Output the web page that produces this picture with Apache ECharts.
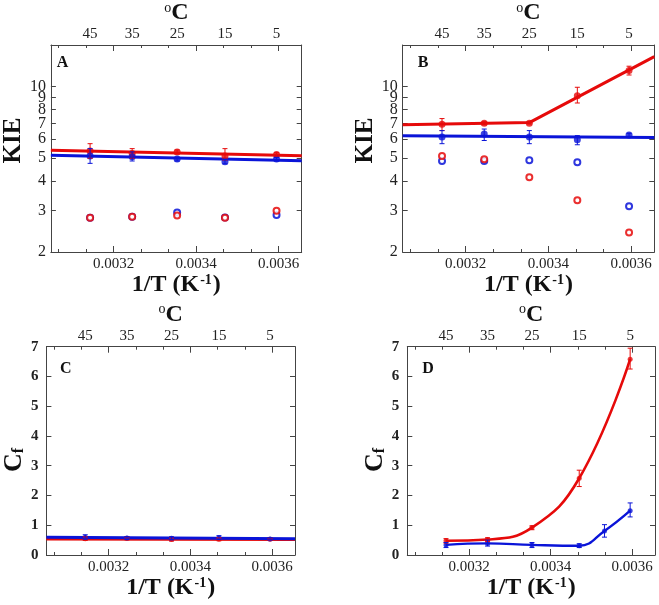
<!DOCTYPE html>
<html><head><meta charset="utf-8">
<script src="https://cdn.jsdelivr.net/npm/echarts@6/dist/echarts.min.js"></script>
<style>html,body{margin:0;padding:0;background:#fff}#c{width:659px;height:605px}</style>
</head><body><div id="c"></div>
<script>
// ---------- data ----------
const invT = [0.003143, 0.003245, 0.003354, 0.003470, 0.003595];          // 45,35,25,15,5 °C
const invTBlueD = [0.003143, 0.003245, 0.003354, 0.003470, 0.003532, 0.003595]; // + 10 °C
const tempLabels = ['45', '35', '25', '15', '5'];
const xTickLabels = [0.0032, 0.0034, 0.0036];
const xMinorTicks = [0.0030667, 0.0031333, 0.0032667, 0.0033333, 0.0034667, 0.0035333];
const kieTicks = [2, 3, 4, 5, 6, 7, 8, 9, 10];
const kieLabelsMain = [2, 3, 4, 5, 6, 7, 8, 10];
const kieLabelsExtra = [9];
const cfTicks = [0, 1, 2, 3, 4, 5, 6, 7];
const fitX = [0.003048, 0.003656];
const fitXB = [0.003048, 0.003354, 0.003656];

// Panel A (KIE)
const aRed = [5.35, 5.22, 5.30, 5.09, 5.17];
const aRedLo = [4.98, 4.98, 5.20, 4.90, 5.08];
const aRedHi = [5.74, 5.47, 5.40, 5.47, 5.26];
const aBlue = [5.09, 5.05, 4.94, 4.82, 4.94];
const aBlueLo = [4.74, 4.85, 4.85, 4.72, 4.86];
const aBlueHi = [5.47, 5.30, 5.02, 4.92, 5.02];
const aRedOpen = [2.79, 2.82, 2.85, 2.79, 2.99];
const aBlueOpen = [2.79, 2.82, 2.94, 2.80, 2.87];
const aRedFit = [5.38, 5.10];
const aBlueFit = [5.13, 4.86];
// Panel B (KIE)
const bRed = [6.94, 7.01, 7.00, 9.15, 11.7];
const bRedLo = [6.52, 6.90, 6.95, 8.53, 11.2];
const bRedHi = [7.33, 7.10, 7.10, 9.94, 12.2];
const bBlue = [6.12, 6.31, 6.12, 5.96, 6.25];
const bBlueLo = [5.74, 5.92, 5.74, 5.68, 6.15];
const bBlueHi = [6.52, 6.62, 6.52, 6.21, 6.35];
const bRedOpen = [5.09, 4.93, 4.14, 3.31, 2.42];
const bBlueOpen = [4.85, 4.85, 4.88, 4.79, 3.12];
const bRedFit = [6.90, 7.05, 13.4];
const bBlueFit = [6.20, 6.10];
// Panel C (Cf)
const cRed = [0.55, 0.56, 0.52, 0.53, 0.53];
const cRedLo = [0.49, 0.51, 0.47, 0.48, 0.49];
const cRedHi = [0.61, 0.61, 0.57, 0.58, 0.57];
const cBlue = [0.60, 0.57, 0.56, 0.58, 0.54];
const cBlueLo = [0.53, 0.52, 0.51, 0.52, 0.50];
const cBlueHi = [0.68, 0.62, 0.61, 0.65, 0.58];
const cRedFit = [0.54, 0.52];
const cBlueFit = [0.60, 0.55];
// Panel D (Cf)
const dRed = [0.48, 0.52, 0.92, 2.58, 6.58];
const dRedLo = [0.40, 0.45, 0.85, 2.30, 6.25];
const dRedHi = [0.55, 0.58, 0.98, 2.85, 6.95];
const dBlue = [0.34, 0.39, 0.34, 0.31, 0.81, 1.49];
const dBlueLo = [0.25, 0.30, 0.25, 0.25, 0.60, 1.28];
const dBlueHi = [0.42, 0.50, 0.42, 0.38, 1.02, 1.75];

// ---------- styling ----------
const RED = '#e60a0a', BLUE = '#0a14d8', AX = '#444';
const FF = 'Liberation Serif, Times New Roman, serif';

const grids = [
  { left: 41.7, top: 40.7, width: 260, height: 211.3 },
  { left: 402.7, top: 40.7, width: 251.6, height: 211.3 },
  { left: 45, top: 346.7, width: 250, height: 208.3 },
  { left: 407.3, top: 346.7, width: 247.7, height: 208.3 }
];
const XMIN = 0.003048, XMAX = 0.003656;

const xAxes = [], yAxes = [], mainY = [];
grids.forEach((g, i) => {
  const base = { type: 'value', gridIndex: i, min: XMIN, max: XMAX, splitLine: { show: false } };
  xAxes.push(Object.assign({}, base, {
    position: 'bottom',
    axisLine: { onZero: false, lineStyle: { color: AX, width: 1 } },
    axisTick: { inside: true, length: 6, customValues: xTickLabels, lineStyle: { color: AX } },
    axisLabel: { customValues: xTickLabels, formatter: v => v.toFixed(4), fontFamily: FF, fontSize: 15, color: '#222', margin: 5, hideOverlap: false },
    name: '{b|1/T (K}{s|-1}{b|)}', nameLocation: 'middle', nameGap: 11,
    nameTextStyle: { rich: {
      b: { fontFamily: FF, fontWeight: 'bold', fontSize: 24, color: '#111' },
      s: { fontFamily: FF, fontWeight: 'bold', fontSize: 14, color: '#111', verticalAlign: 'top', padding: [0, 1, 0, 1] }
    } }
  }));
  xAxes.push(Object.assign({}, base, {
    position: 'top',
    axisLine: { onZero: false, lineStyle: { color: AX, width: 1 } },
    axisTick: { inside: true, length: 6, customValues: xTickLabels, lineStyle: { color: AX } },
    axisLabel: { customValues: invT, formatter: v => tempLabels[invT.indexOf(v)], fontFamily: FF, fontSize: 15, color: '#222', margin: 3, hideOverlap: false },
    name: '{s|o}{b|C}', nameLocation: 'middle', nameGap: 20,
    nameTextStyle: { rich: {
      b: { fontFamily: FF, fontWeight: 'bold', fontSize: 24, color: '#111' },
      s: { fontFamily: FF, fontSize: 14, color: '#111', verticalAlign: 'top' }
    } }
  }));
  xAxes.push(Object.assign({}, base, {
    position: 'bottom', axisLine: { show: false, onZero: false },
    axisTick: { inside: true, length: 3, customValues: xMinorTicks, lineStyle: { color: AX } },
    axisLabel: { show: false }
  }));
  xAxes.push(Object.assign({}, base, {
    position: 'top', axisLine: { show: false, onZero: false },
    axisTick: { inside: true, length: 3, customValues: xMinorTicks, lineStyle: { color: AX } },
    axisLabel: { show: false }
  }));

  const isLog = i < 2;
  const ticks = isLog ? kieTicks : cfTicks;
  const yBase = isLog ? { type: 'log', logBase: 10, min: 2, max: 15 } : { type: 'value', min: 0, max: 7 };
  const labelStyle = { fontFamily: FF, fontSize: isLog ? 16 : 15, fontWeight: isLog ? 'normal' : 'bold',
    color: '#222', margin: isLog ? 5 : 8, hideOverlap: false, formatter: v => String(Math.round(v)) };
  mainY.push(yAxes.length);
  yAxes.push(Object.assign({ gridIndex: i, position: 'left', splitLine: { show: false } }, yBase, {
    axisLine: { onZero: false, lineStyle: { color: AX, width: 1 } },
    axisTick: { inside: true, length: 5, customValues: ticks, lineStyle: { color: AX } },
    axisLabel: Object.assign({ customValues: isLog ? kieLabelsMain : ticks, showMinLabel: true, showMaxLabel: true }, labelStyle),
    name: isLog ? '{b|KIE}' : '{b|C}{s|f}', nameLocation: 'middle', nameGap: isLog ? 12 : 18,
    nameTextStyle: {
      padding: isLog ? [0, 0, 0, 16] : [0, 18, 0, 0],
      rich: {
        b: { fontFamily: FF, fontWeight: 'bold', fontSize: isLog ? 25 : 26, color: '#111' },
        s: { fontFamily: FF, fontWeight: 'bold', fontSize: 16, color: '#111', verticalAlign: 'bottom' }
      }
    }
  }));
  yAxes.push(Object.assign({ gridIndex: i, position: 'right', splitLine: { show: false } }, yBase, {
    axisLine: { onZero: false, lineStyle: { color: AX, width: 1 } },
    axisTick: { inside: true, length: 5, customValues: ticks.slice(1), lineStyle: { color: AX } },
    axisLabel: { show: false }
  }));
  if (isLog) {
    yAxes.push(Object.assign({ gridIndex: i, position: 'left', offset: 0, splitLine: { show: false } }, yBase, {
      axisLine: { show: false, onZero: false },
      axisTick: { show: false },
      axisLabel: Object.assign({ customValues: kieLabelsExtra, showMinLabel: true, showMaxLabel: true }, labelStyle)
    }));
  }
});

function zip(xs, ys) { return xs.map((x, k) => [x, ys[k]]); }

function lineS(g, xs, ys, color, smooth, width) {
  return { type: 'line', xAxisIndex: 4 * g, yAxisIndex: mainY[g], data: zip(xs, ys), showSymbol: false,
    smooth: smooth || false,
    lineStyle: { color: color, width: width || 3 }, z: 2, silent: true };
}
function dotS(g, xs, ys, color, size) {
  return { type: 'scatter', xAxisIndex: 4 * g, yAxisIndex: mainY[g], data: zip(xs, ys), symbol: 'circle',
    symbolSize: size, itemStyle: { color: color }, z: 4, silent: true };
}
function openS(g, xs, ys, color) {
  return { type: 'scatter', xAxisIndex: 4 * g, yAxisIndex: mainY[g], data: zip(xs, ys), symbol: 'emptyCircle',
    symbolSize: 6, itemStyle: { color: color, borderColor: color, borderWidth: 0.8, opacity: 0.85 }, z: 4, silent: true };
}
function errS(g, xs, lo, hi, color) {
  return { type: 'custom', xAxisIndex: 4 * g, yAxisIndex: mainY[g], silent: true, z: 5,
    data: xs.map((x, k) => [x, lo[k], hi[k]]), encode: { x: 0, y: [1, 2] },
    renderItem: (params, api) => {
      const x = api.value(0);
      const p1 = api.coord([x, api.value(1)]);
      const p2 = api.coord([x, api.value(2)]);
      const w = 2.5;
      const st = { stroke: color, lineWidth: 1 };
      return { type: 'group', children: [
        { type: 'line', shape: { x1: p1[0], y1: p1[1], x2: p2[0], y2: p2[1] }, style: st },
        { type: 'line', shape: { x1: p1[0] - w, y1: p1[1], x2: p1[0] + w, y2: p1[1] }, style: st },
        { type: 'line', shape: { x1: p2[0] - w, y1: p2[1], x2: p2[0] + w, y2: p2[1] }, style: st }
      ] };
    } };
}

const series = [
  // A
  lineS(0, fitX, aRedFit, RED), lineS(0, fitX, aBlueFit, BLUE),
  dotS(0, invT, aRed, RED, 7), dotS(0, invT, aBlue, BLUE, 7),
  errS(0, invT, aRedLo, aRedHi, RED), errS(0, invT, aBlueLo, aBlueHi, BLUE),
  openS(0, invT, aBlueOpen, BLUE), openS(0, invT, aRedOpen, RED),
  // B
  lineS(1, fitXB, bRedFit, RED), lineS(1, fitX, bBlueFit, BLUE),
  dotS(1, invT, bRed, RED, 7), dotS(1, invT, bBlue, BLUE, 7),
  errS(1, invT, bRedLo, bRedHi, RED), errS(1, invT, bBlueLo, bBlueHi, BLUE),
  openS(1, invT, bBlueOpen, BLUE), openS(1, invT, bRedOpen, RED),
  // C
  lineS(2, fitX, cRedFit, RED), lineS(2, fitX, cBlueFit, BLUE),
  dotS(2, invT, cRed, RED, 5), dotS(2, invT, cBlue, BLUE, 5),
  errS(2, invT, cRedLo, cRedHi, RED), errS(2, invT, cBlueLo, cBlueHi, BLUE),
  // D
  lineS(3, invT, dRed, RED, 0.45, 2.6), lineS(3, invTBlueD, dBlue, BLUE, 0.45, 2.4),
  dotS(3, invT, dRed, RED, 5), dotS(3, invTBlueD, dBlue, BLUE, 5),
  errS(3, invT, dRedLo, dRedHi, RED), errS(3, invTBlueD, dBlueLo, dBlueHi, BLUE)
];

const letters = ['A', 'B', 'C', 'D'];
const graphic = grids.map((g, i) => ({
  type: 'text', left: g.left + 15, top: g.top + 14,
  style: { text: letters[i], font: 'bold 16px ' + FF, fill: '#111' }
}));

const chart = echarts.init(document.getElementById('c'), null, { renderer: 'canvas' });
chart.setOption({
  animation: false,
  backgroundColor: '#fff',
  grid: grids,
  xAxis: xAxes,
  yAxis: yAxes,
  series: series,
  graphic: graphic
});
</script>
</body></html>
